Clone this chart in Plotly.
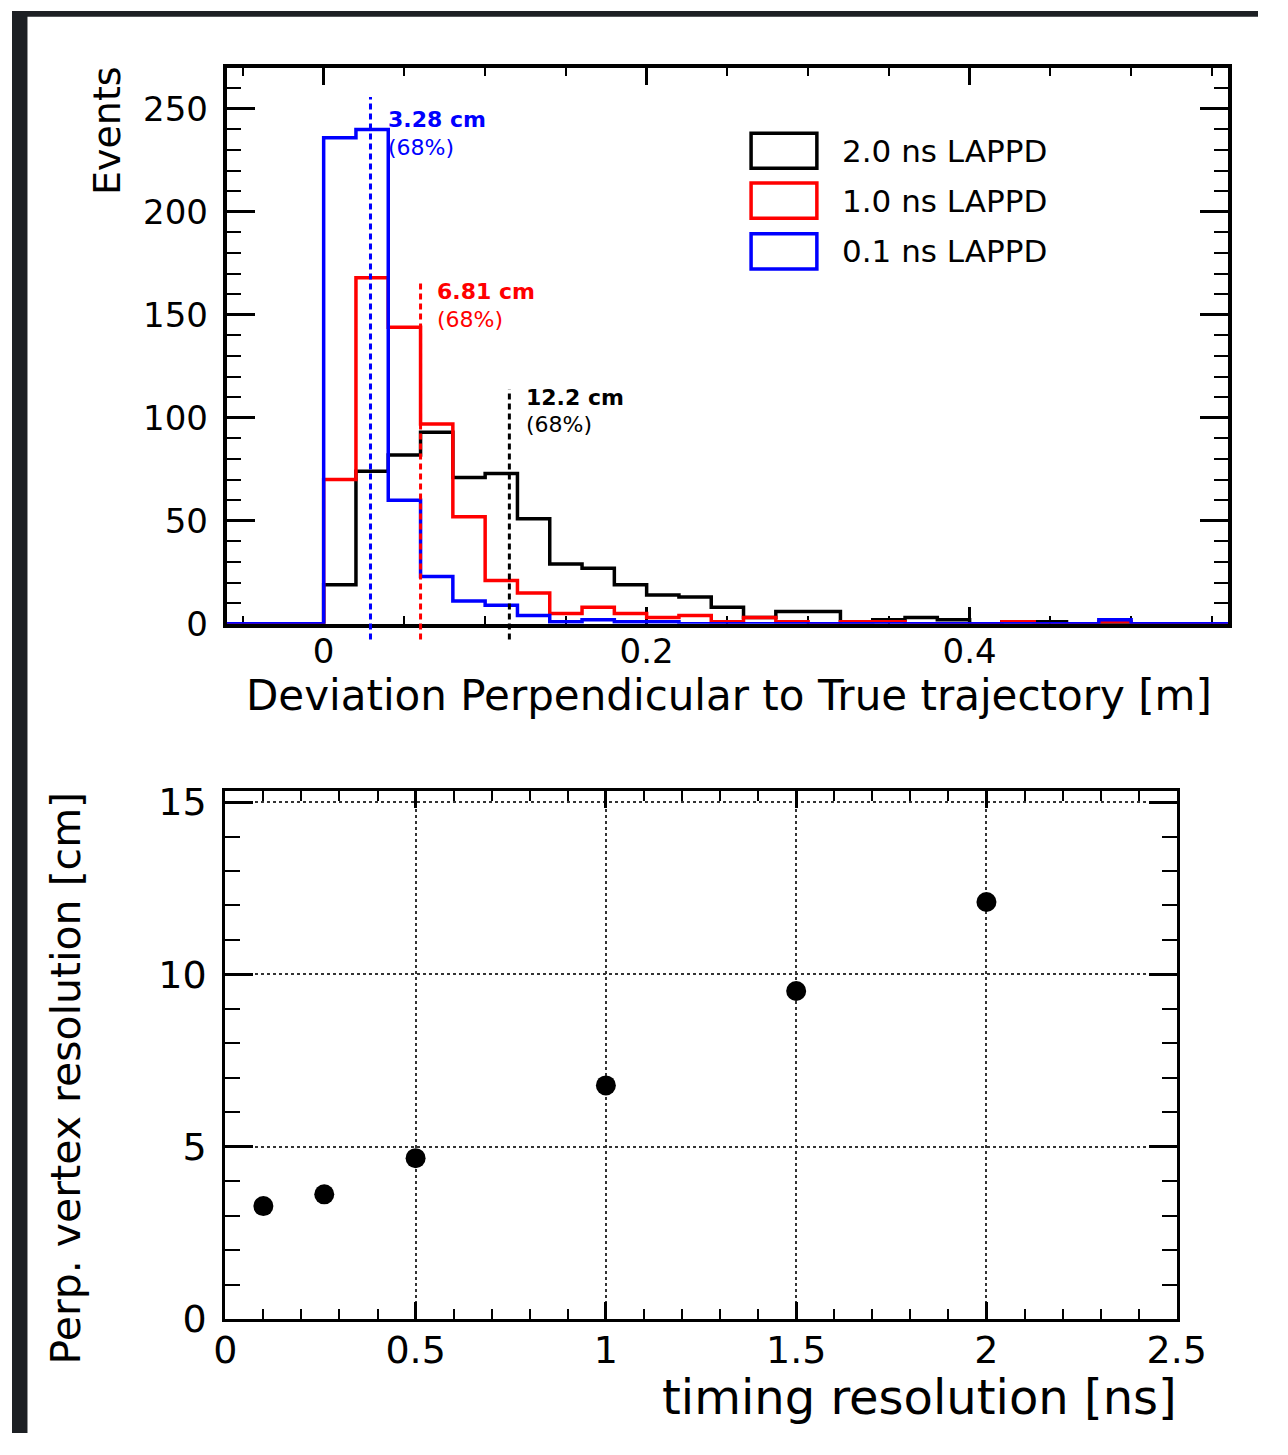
import plotly.graph_objects as go

W, H = 1288, 1455
def px(x): return x / W
def py(y): return 1 - y / H

# ---------------- data: histogram (bin lower edges, width 0.02 m) ----------------
bin_low = [-0.06, -0.04, -0.02, 0.00, 0.02, 0.04, 0.06, 0.08, 0.10, 0.12, 0.14,
           0.16, 0.18, 0.20, 0.22, 0.24, 0.26, 0.28, 0.30, 0.32, 0.34, 0.36,
           0.38, 0.40, 0.42, 0.44, 0.46, 0.48, 0.50, 0.52, 0.54]
bin_end = 0.56
counts_2ns = [0, 0, 0, 19, 74, 82, 93, 71, 73, 51, 29, 27, 19, 14, 13, 8, 3, 6, 6,
              1, 2, 3, 2, 0, 1, 1, 0, 0, 0, 0, 0]
counts_1ns = [0, 0, 0, 70, 168, 144, 97, 52, 21, 15, 5, 8, 5, 3, 4, 1, 3, 1, 0,
              1, 1, 0, 0, 0, 1, 0, 0, 1, 0, 0, 0]
counts_01ns = [0, 0, 0, 236, 240, 60, 23, 11, 9, 4, 1, 2, 1, 1, 0, 0, 0, 0, 0,
               0, 0, 0, 0, 0, 0, 0, 0, 2, 0, 0, 0]
series_names = ["2.0 ns LAPPD", "1.0 ns LAPPD", "0.1 ns LAPPD"]
series_colors = ["#000000", "#ff0000", "#0000ff"]
res68_pos = [0.115, 0.060, 0.029]          # dashed 68% lines (m)
res68_label = ["12.2 cm", "6.81 cm", "3.28 cm"]

# ---------------- data: resolution vs timing ----------------
timing_ns = [0.1, 0.26, 0.5, 1.0, 1.5, 2.0]
perp_res_cm = [3.28, 3.62, 4.67, 6.78, 9.52, 12.1]

FONT = "DejaVu Sans"
fig = go.Figure()

# histograms (drawn black, red, blue so blue lies on top)
for name, col, cnt in zip(series_names, series_colors, [counts_2ns, counts_1ns, counts_01ns]):
    xs = list(bin_low) + [bin_end]
    ys = list(cnt) + [cnt[-1]]
    fig.add_trace(go.Scatter(x=xs, y=ys, mode="lines", line=dict(shape="hv", color=col, width=3.5),
                             name=name, xaxis="x", yaxis="y", showlegend=False))

fig.add_trace(go.Scatter(x=timing_ns, y=perp_res_cm, mode="markers",
                         marker=dict(color="black", size=20), xaxis="x2", yaxis="y2",
                         showlegend=False, cliponaxis=False))

axis_common = dict(showline=True, linecolor="black", mirror="allticks", ticks="inside",
                   tickcolor="black", zeroline=False, layer="below traces",
                   tickfont=dict(family=FONT, size=34, color="black"))

fig.update_layout(
    width=W, height=H, margin=dict(l=0, r=0, t=0, b=0),
    paper_bgcolor="white", plot_bgcolor="white",
    font=dict(family=FONT, color="black"),
    xaxis=dict(axis_common, domain=[px(222), px(1257)], anchor="y", range=[-0.06, 0.56],
               tick0=0, dtick=0.2, ticklen=17, tickwidth=3, linewidth=4, showgrid=False,
               ticklabelstandoff=-6,
               minor=dict(ticks="inside", tick0=0, dtick=0.05, ticklen=8, tickwidth=2,
                          tickcolor="black", showgrid=False)),
    yaxis=dict(axis_common, domain=[py(627), py(58)], anchor="x", range=[0, 270],
               dtick=50, ticklen=28, tickwidth=3, linewidth=4, showgrid=False,
               ticklabelstandoff=8,
               minor=dict(ticks="inside", dtick=10, ticklen=14, tickwidth=2,
                          tickcolor="black", showgrid=False)),
    xaxis2=dict(axis_common, domain=[px(220.5), px(1204)], anchor="y2", range=[0, 2.5],
                tick0=0, dtick=0.5, ticklen=17, tickwidth=2.5, linewidth=3,
                showgrid=True, gridcolor="#333333", gridwidth=1.5, griddash="dot",
                ticklabelstandoff=-5,
                tickfont=dict(family=FONT, size=38, color="black"),
                minor=dict(ticks="inside", tick0=0, dtick=0.1, ticklen=10, tickwidth=2,
                           tickcolor="black", showgrid=False)),
    yaxis2=dict(axis_common, domain=[py(1338.5), py(798.5)], anchor="x2", range=[0, 15.31],
                dtick=5, ticklen=28, tickwidth=2.5, linewidth=3,
                showgrid=True, gridcolor="#333333", gridwidth=1.5, griddash="dot",
                ticklabelstandoff=8,
                tickfont=dict(family=FONT, size=38, color="black"),
                minor=dict(ticks="inside", dtick=1, ticklen=15, tickwidth=2,
                           tickcolor="black", showgrid=False)),
)

shapes = []
# dark textured frame (left and top)
shapes.append(dict(type="rect", xref="paper", yref="paper", x0=0, x1=px(16), y0=0, y1=1,
                   fillcolor="#1d2024", line=dict(width=0), layer="above"))
shapes.append(dict(type="rect", xref="paper", yref="paper", x0=0, x1=1, y0=py(6), y1=1,
                   fillcolor="#1d2024", line=dict(width=0), layer="above"))

# 68% dashed lines
dash_tops = [387, 276, 88]
for xpos, col, top in zip(res68_pos, series_colors, dash_tops):
    shapes.append(dict(type="line", xref="x", yref="paper", x0=xpos, x1=xpos,
                       y0=py(643), y1=py(top), line=dict(color=col, width=3, dash="6px,4px")))

# legend boxes
legend_boxes = [(125, 161), (176, 212), (228, 264)]
for (t, b), col in zip(legend_boxes, series_colors):
    shapes.append(dict(type="rect", xref="paper", yref="paper", x0=px(764), x1=px(832),
                       y0=py(b), y1=py(t), line=dict(color=col, width=3.5)))
fig.update_layout(shapes=shapes)

ann = []
# legend texts
for (t, b), name in zip(legend_boxes, series_names):
    ann.append(dict(xref="paper", yref="paper", x=px(856), y=py((t + b) / 2), text=name,
                    showarrow=False, xanchor="left", yanchor="middle",
                    font=dict(family=FONT, size=31, color="black")))
# resolution labels
label_pos = [(529, 395, 423), (437, 287, 316), (387, 111, 140)]
for (lx, y1, y2), lab, col in zip(label_pos, res68_label, series_colors):
    ann.append(dict(xref="paper", yref="paper", x=px(lx), y=py(y1), text="<b>" + lab + "</b>",
                    showarrow=False, xanchor="left", yanchor="middle",
                    font=dict(family=FONT, size=22, color=col)))
    ann.append(dict(xref="paper", yref="paper", x=px(lx), y=py(y2), text="(68%)",
                    showarrow=False, xanchor="left", yanchor="middle",
                    font=dict(family=FONT, size=22, color=col)))
# axis titles
ann.append(dict(xref="paper", yref="paper", x=px(99), y=py(54), text="Events", textangle=-90,
                showarrow=False, xanchor="center", yanchor="top",
                font=dict(family=FONT, size=38, color="black")))
ann.append(dict(xref="paper", yref="paper", x=px(1243), y=py(700),
                text="Deviation Perpendicular to True trajectory [m]",
                showarrow=False, xanchor="right", yanchor="middle",
                font=dict(family=FONT, size=42, color="black")))
ann.append(dict(xref="paper", yref="paper", x=px(56), y=py(797), text="Perp. vertex resolution [cm]",
                textangle=-90, showarrow=False, xanchor="center", yanchor="top",
                font=dict(family=FONT, size=41, color="black")))
ann.append(dict(xref="paper", yref="paper", x=px(1206), y=py(1418), text="timing resolution [ns]",
                showarrow=False, xanchor="right", yanchor="middle",
                font=dict(family=FONT, size=48, color="black")))
fig.update_layout(annotations=ann)

fig.write_html("out.html", post_script="document.body.style.margin='0';")
